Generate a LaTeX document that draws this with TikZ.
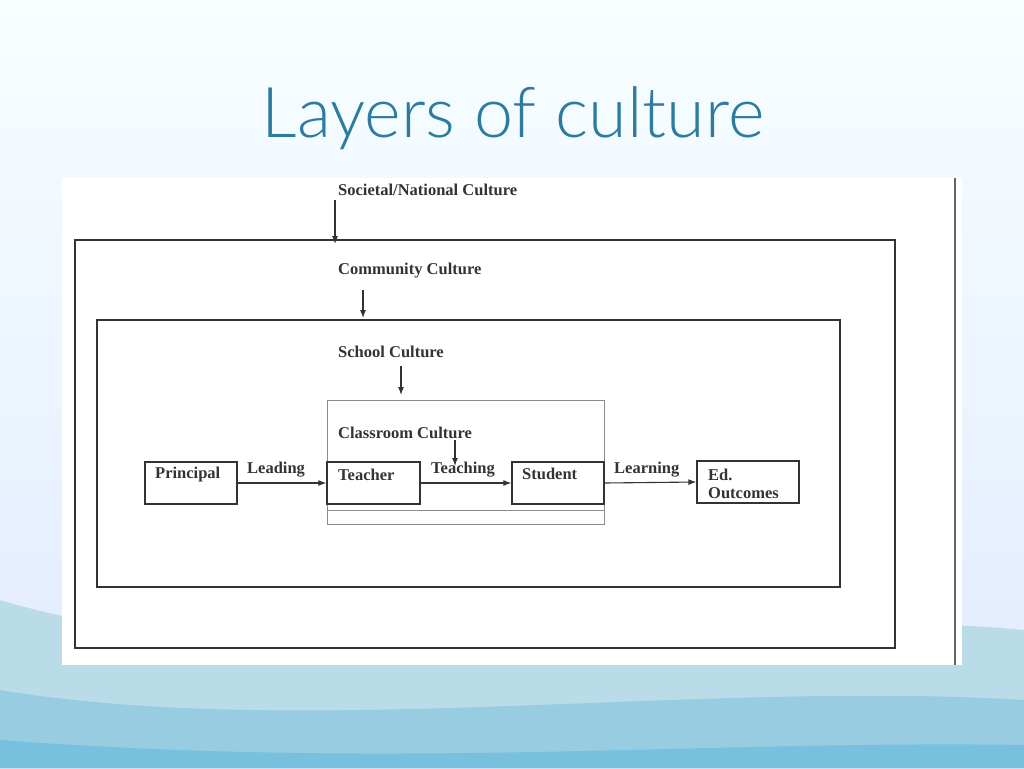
\documentclass[tikz,border=0pt]{standalone}
\usepackage{fontspec}
\usetikzlibrary{arrows.meta}
\setmainfont{Liberation Serif}
\newfontfamily\titlefont{Lato Light}
\begin{document}
\begin{tikzpicture}[x=1pt,y=-1pt,
  lbl/.style={font=\bfseries\fontsize{16.5}{18}\selectfont,anchor=west,inner sep=0pt,text=black!80},
  bx/.style={draw=black!80,line width=1.3pt},
  arr/.style={-{Latex[length=8pt,width=6pt]},line width=1.1pt,black!80}]
\useasboundingbox (0,0) rectangle (1024,768);
\shade[top color=cyan!3,bottom color=cyan!30!blue!12] (0,0) rectangle (1024,768);
\fill[cyan!40!teal!30] (0,600) .. controls (300,690) and (700,600) .. (1024,630) -- (1024,768) -- (0,768) -- cycle;
\fill[cyan!50!teal!45] (0,690) .. controls (300,740) and (700,680) .. (1024,700) -- (1024,768) -- (0,768) -- cycle;
\fill[cyan!60!teal!60] (0,740) .. controls (400,770) and (700,740) .. (1024,745) -- (1024,768) -- (0,768) -- cycle;
\node[font=\titlefont\fontsize{70}{74}\selectfont,text={rgb,255:red,46;green,123;blue,160}] (title) at (513,118) {Layers of culture};
\fill[white] (62,178) rectangle (962,665);
\draw[black!60,line width=1.5pt] (955,178) -- (955,665);
\draw[bx] (75,240) rectangle (895,648);
\draw[bx] (97,320) rectangle (840,587);
\draw[black!45,line width=1pt] (327,400) rectangle (604,524);
\draw[black!45,line width=0.8pt] (327,510) -- (604,510);
\node[bx,minimum width=92pt,minimum height=42pt,inner sep=0pt] (pr) at (191,483) {};
\node[lbl] at (155,475) {Principal};
\node[bx,minimum width=93pt,minimum height=42pt,inner sep=0pt] (te) at (373.5,483) {};
\node[lbl] at (338,475) {Teacher};
\node[bx,minimum width=92pt,minimum height=42pt,inner sep=0pt] (st) at (558,483) {};
\node[lbl] at (522,474) {Student};
\node[bx,minimum width=102pt,minimum height=42pt,inner sep=0pt] (ed) at (748,482) {};
\node[lbl,align=left] at (708,484) {Ed.\\Outcomes};
\node[lbl] (soc) at (338,190) {Societal/National Culture};
\node[lbl] (com) at (338,271) {Community Culture};
\node[lbl] (sch) at (338,352) {School Culture};
\node[lbl] (cls) at (338,433) {Classroom Culture};
\node[lbl] (lead) at (247,470) {Leading};
\node[lbl] (teach) at (431,470) {Teaching};
\node[lbl] (learn) at (614,470) {Learning};
\coordinate (a1) at (335,200); \coordinate (a1e) at (335,244);
\coordinate (a2) at (363,290); \coordinate (a2e) at (363,318);
\coordinate (a3) at (401,366); \coordinate (a3e) at (401,395);
\coordinate (a4) at (455,440); \coordinate (a4e) at (455,466);
\draw[arr] (a1) -- (a1e);
\draw[arr] (a2) -- (a2e);
\draw[arr] (a3) -- (a3e);
\draw[arr] (a4) -- (a4e);
\draw[arr] (pr.east) -- (te.west);
\draw[arr] (te.east) -- (st.west);
\draw[arr] (st.east) -- (ed.west);
\end{tikzpicture}
\end{document}
